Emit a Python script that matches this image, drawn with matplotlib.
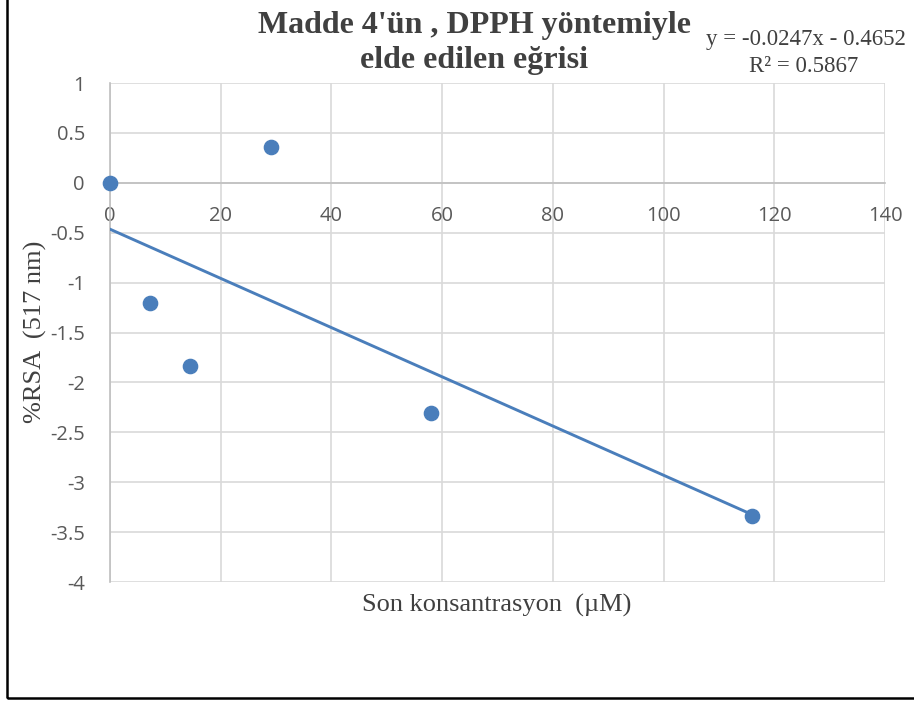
import numpy as np
import matplotlib
matplotlib.use('Agg')
import matplotlib.pyplot as plt
from matplotlib.patches import Rectangle

# data
conc = [0, 7.25, 14.5, 29, 58, 116]
rsa = [0, -1.2, -1.84, 0.36, -2.31, -3.34]
x_ticks = [0, 20, 40, 60, 80, 100, 120, 140]
y_ticks = [1, 0.5, 0, -0.5, -1, -1.5, -2, -2.5, -3, -3.5, -4]
y_labels = ['1', '0.5', '0', '-0.5', '-1', '-1.5', '-2', '-2.5', '-3', '-3.5', '-4']
equation = 'y = -0.0247x - 0.4652'
r2_text = 'R² = 0.5867'

blue = '#4a7ebb'
grid_gray = '#d9d9d9'
tick_gray = '#595959'

fig = plt.figure(figsize=(9.14, 7.02), dpi=100)
ax = fig.add_axes([110 / 914, 120 / 702, 775 / 914, 499 / 702])

# linear trendline
slope, intercept = np.polyfit(conc, rsa, 1)
xs = np.array([0, max(conc)])
ax.plot(xs, slope * xs + intercept, color=blue, lw=2.1, zorder=3)
ax.scatter(conc, rsa, s=105, color=blue, zorder=4, clip_on=False)

ax.set_xlim(0, 140)
ax.set_ylim(-4, 1)
ax.set_xticks(x_ticks)
ax.set_yticks(y_ticks)
ax.set_yticklabels(y_labels)
ax.grid(True, color=grid_gray, lw=1.2)
ax.set_axisbelow(True)

for s in ['top', 'right']:
    ax.spines[s].set_visible(False)
ax.spines['bottom'].set_position(('data', 0))
ax.spines['bottom'].set_color('#bfbfbf')
ax.spines['left'].set_color('#bfbfbf')
ax.spines['bottom'].set_linewidth(1.2)
ax.spines['left'].set_linewidth(1.2)
ax.tick_params(length=0, colors=tick_gray, labelsize=14.5)
ax.tick_params(axis='x', pad=17)
ax.tick_params(axis='y', pad=18)
for lab in ax.get_xticklabels() + ax.get_yticklabels():
    lab.set_family('Open Sans')

fig.text(474 / 914, 1 - 43 / 702, "Madde 4'ün , DPPH yöntemiyle\nelde edilen eğrisi",
         ha='center', va='center', family='Liberation Serif', weight='bold',
         fontsize=23, color='#404040', linespacing=1.3)
fig.text(806 / 914, 1 - 40 / 702, equation, ha='center', va='center',
         family='Liberation Serif', fontsize=16.5, color='#404040')
fig.text(804 / 914, 1 - 67 / 702, r2_text, ha='center', va='center',
         family='Liberation Serif', fontsize=16.5, color='#404040')

fig.text(497 / 914, 1 - 605 / 702, 'Son konsantrasyon  (µM)', ha='center', va='center',
         family='Liberation Serif', fontsize=19, color='#404040')
fig.text(35 / 914, 1 - 332 / 702, '%RSA  (517 nm)', ha='center', va='center',
         rotation=90, family='Liberation Serif', fontsize=19, color='#404040')

# outer frame
fig.patches.append(Rectangle((7 / 914, 4 / 702), 1.0, 1.0, transform=fig.transFigure,
                             fill=False, edgecolor='black', lw=1.8, clip_on=False))

fig.savefig('out.png', dpi=100)
